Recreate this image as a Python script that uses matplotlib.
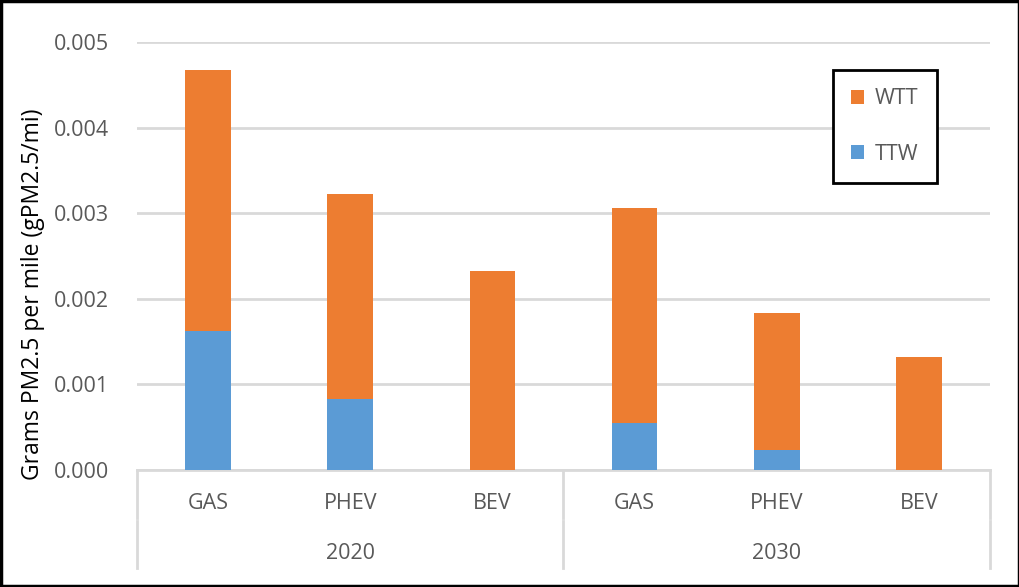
import matplotlib.pyplot as plt
from matplotlib.patches import Rectangle
import numpy as np

plt.rcParams['font.family'] = ['Open Sans', 'DejaVu Sans']

vehicles = ['GAS', 'PHEV', 'BEV', 'GAS', 'PHEV', 'BEV']
years = ['2020', '2030']
ttw = [0.00162, 0.00083, 0.0, 0.00055, 0.00023, 0.0]
total = [0.00467, 0.00323, 0.00233, 0.00306, 0.00184, 0.00132]
wtt = [t - b for t, b in zip(total, ttw)]

blue = '#5B9BD5'
orange = '#ED7D31'
grid_gray = '#D9D9D9'
text_gray = '#595959'

fig = plt.figure(figsize=(10.2, 5.87), dpi=100)
ax = fig.add_axes([0.1343, 0.1993, 0.8363, 0.7291])

x = np.arange(len(vehicles))
width = 0.32
b1 = ax.bar(x, ttw, width, color=blue, label='TTW', zorder=3)
b2 = ax.bar(x, wtt, width, bottom=ttw, color=orange, label='WTT', zorder=3)

ax.set_xlim(-0.5, len(vehicles) - 0.5)
ax.set_ylim(0, 0.005)
ax.set_yticks(np.arange(0, 0.0051, 0.001))
ax.set_yticklabels(['%.3f' % v for v in np.arange(0, 0.0051, 0.001)])
ax.tick_params(axis='y', length=0, pad=20, labelsize=15.5, labelcolor=text_gray)
ax.set_xticks([])
ax.grid(axis='y', color=grid_gray, linewidth=2, zorder=0)
for s in ['top', 'right', 'left']:
    ax.spines[s].set_visible(False)
ax.spines['bottom'].set_color(grid_gray)
ax.spines['bottom'].set_linewidth(2)
ax.set_ylabel('Grams PM2.5 per mile (gPM2.5/mi)', fontsize=16.5)
ax.yaxis.set_label_coords(-0.108, 0.41)

# two-level category axis
tr = ax.get_xaxis_transform()
for i, v in enumerate(vehicles):
    ax.text(i, -0.079, v, transform=tr, ha='center', va='center',
            fontsize=15.5, color=text_gray)
for j, yr in enumerate(years):
    ax.text(j * 3 + 1, -0.194, yr, transform=tr, ha='center', va='center',
            fontsize=15.5, color=text_gray)
for xd in [-0.5, 2.5, 5.5]:
    ax.plot([xd, xd], [0, -0.112], transform=tr, color=grid_gray,
            linewidth=2, clip_on=False)
    ax.plot([xd, xd], [-0.118, -0.229], transform=tr, color=grid_gray,
            linewidth=2, clip_on=False)

leg = ax.legend(handles=[b2, b1], loc='upper left',
                bbox_to_anchor=(833 / 1020, 1 - 70 / 587),
                bbox_transform=fig.transFigure, fancybox=False,
                edgecolor='black', fontsize=15.5, labelspacing=1.6,
                handlelength=0.6, handleheight=0.6, handletextpad=0.5,
                borderpad=0.85, borderaxespad=0, framealpha=1)
leg.get_frame().set_linewidth(2)
for t in leg.get_texts():
    t.set_color(text_gray)

fig.patches.append(Rectangle((0.001, 0.0015), 0.998, 0.997,
                             transform=fig.transFigure, fill=False,
                             edgecolor='black', linewidth=2.5))

plt.savefig('out.png', dpi=100)
